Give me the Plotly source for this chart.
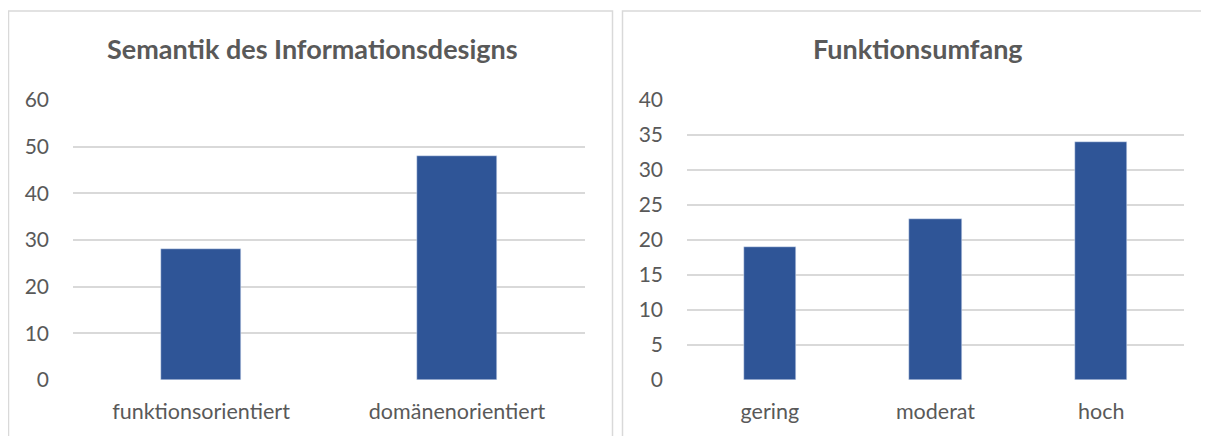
import plotly.graph_objects as go

# page offset caused by the default 8px body margin
OFF = 8
FW, FH = 1201, 428

left_title = "Semantik des Informationsdesigns"
left_categories = ["funktionsorientiert", "domänenorientiert"]
left_values = [28, 48]
left_ticks = [0, 10, 20, 30, 40, 50, 60]

right_title = "Funktionsumfang"
right_categories = ["gering", "moderat", "hoch"]
right_values = [19, 23, 34]
right_ticks = [0, 5, 10, 15, 20, 25, 30, 35, 40]

BAR = "#2F5597"
TXT = "#595959"
GRID = "#D9D9D9"
FONT = "Lato"


def px(p):
    return (p - OFF) / FW


def py(p):
    return 1 - (p - OFF) / FH


fig = go.Figure()
fig.add_trace(go.Bar(x=left_categories, y=left_values, marker_color=BAR,
                     xaxis="x", yaxis="y", width=0.3125, showlegend=False))
fig.add_trace(go.Bar(x=right_categories, y=right_values, marker_color=BAR,
                     xaxis="x2", yaxis="y2", width=0.314, showlegend=False))

axis_common = dict(showline=False, zeroline=False, fixedrange=True, automargin=False)
YTICK = dict(size=21, color=TXT, family=FONT)
XTICK = dict(size=21.5, color=TXT, family=FONT)
fig.update_layout(
    width=FW, height=FH, autosize=False,
    margin=dict(l=0, r=0, t=0, b=0, pad=0),
    paper_bgcolor="white", plot_bgcolor="white",
    font=dict(family=FONT, color=TXT, size=21),
    bargap=0,
    xaxis=dict(domain=[px(73), px(585)], anchor="y", showgrid=False,
               ticklabelstandoff=16, tickfont=XTICK, **axis_common),
    yaxis=dict(domain=[py(380), py(100)], anchor="x", range=[0, 60], tickvals=left_ticks,
               showgrid=True, gridcolor=GRID, gridwidth=1.5,
               ticklabelstandoff=23, tickfont=YTICK, **axis_common),
    xaxis2=dict(domain=[px(687), px(1184)], anchor="y2", showgrid=False,
                ticklabelstandoff=16, tickfont=XTICK, **axis_common),
    yaxis2=dict(domain=[py(380), py(100)], anchor="x2", range=[0, 40], tickvals=right_ticks,
                showgrid=True, gridcolor=GRID, gridwidth=1.5,
                ticklabelstandoff=23, tickfont=YTICK, **axis_common),
    annotations=[
        dict(text="<b>" + left_title + "</b>", x=px(312), y=py(48.5), xref="paper", yref="paper",
             xanchor="center", yanchor="middle",
             showarrow=False, font=dict(size=27, color=TXT, family=FONT)),
        dict(text="<b>" + right_title + "</b>", x=px(918), y=py(48.5), xref="paper", yref="paper",
             xanchor="center", yanchor="middle",
             showarrow=False, font=dict(size=27, color=TXT, family=FONT)),
    ],
    shapes=[
        dict(type="rect", xref="paper", yref="paper", x0=px(8.5), x1=px(612.5),
             y0=-0.1, y1=py(11), line=dict(color=GRID, width=1.5)),
        dict(type="rect", xref="paper", yref="paper", x0=px(622.5), x1=1.1,
             y0=-0.1, y1=py(11), line=dict(color=GRID, width=1.5)),
    ],
)

fig.write_html("out.html")
